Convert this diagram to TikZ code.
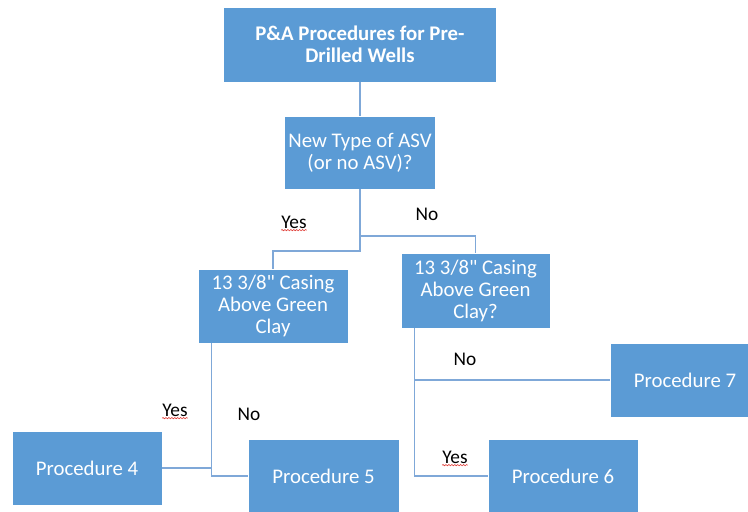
\documentclass[tikz,border=0pt]{standalone}
\usepackage{fontspec}
\setmainfont{Carlito}[Ligatures=TeXOff]
\usetikzlibrary{decorations.pathmorphing}
\definecolor{boxblue}{HTML}{5B9BD5}
\definecolor{linkblue}{HTML}{7FA8D8}
\definecolor{squig}{HTML}{E0403A}
\begin{document}
\begin{tikzpicture}[x=0.75pt,y=-0.75pt,
  box/.style={fill=boxblue,draw=white,line width=0.6pt,inner sep=0pt,
    text=white,align=center,font=\fontsize{15.6}{16.5}\selectfont},
  link/.style={draw=linkblue,line width=1.3pt},
  lbl/.style={text=black,inner sep=0pt,font=\fontsize{14.5}{16}\selectfont},
  spell/.style={draw=squig,line width=0.45pt,decorate,
    decoration={snake,amplitude=0.5pt,segment length=2.2pt}}]
\useasboundingbox (0,0) rectangle (748,511);
\clip (0,0) rectangle (748,511);

% decision and procedure boxes
\node[box,minimum width=204.75pt,minimum height=56.25pt,font=\bfseries\fontsize{15.6}{16.5}\selectfont]
  (top) at (360,44.5) {P\&A Procedures for Pre-\\Drilled Wells};
\node[box,minimum width=113.25pt,minimum height=54.75pt] (asv) at (360,152.5)
  {New Type of ASV\\(or no ASV)?};
\node[box,minimum width=112.5pt,minimum height=55.5pt] (lbox) at (273,306)
  {13 3/8" Casing\\Above Green\\Clay};
\node[box,minimum width=111.75pt,minimum height=56.25pt] (rbox) at (475.5,290.5)
  {13 3/8" Casing\\Above Green\\Clay?};
\node[box,minimum width=112.5pt,minimum height=55.5pt] (p4) at (87,468) {Procedure 4};
\node[box,minimum width=113.25pt,minimum height=55.5pt] (p5) at (323.5,476) {Procedure 5};
\node[box,minimum width=112.5pt,minimum height=55.5pt] (p6) at (563,476) {Procedure 6};
\node[box,minimum width=112.5pt,minimum height=55.5pt] (p7) at (685,380) {Procedure 7};

% branch points
\coordinate (jl) at (273,251);
\coordinate (jr) at (475.5,236);
\coordinate (ls) at ([xshift=10.5pt]lbox.south west);
\coordinate (rs) at ([xshift=10.5pt]rbox.south west);

% connectors
\draw[link] (top.south) -- (asv.north);
\draw[link] (asv.south) |- (jl) -- (lbox.north);
\draw[link] (asv.south) |- (jr) -- (rbox.north);
\draw[link] (ls) |- (p5.west);
\draw[link] (p4.east) -- (p4.east -| ls);
\draw[link] (rs) |- (p6.west);
\draw[link] (p7.west) -- (p7.west -| rs);

% branch labels
\node[lbl] (y1) at (294,222) {Yes};
\node[lbl] (n1) at (427,214) {No};
\node[lbl] (y2) at (175,410) {Yes};
\node[lbl] (n2) at (249,414) {No};
\node[lbl] (n3) at (465,359) {No};
\node[lbl] (y3) at (455,457) {Yes};

% spelling marks under the Yes labels
\foreach \y in {y1,y2,y3}
  \draw[spell] ([yshift=-1.2pt]\y.south west) -- ([yshift=-1.2pt]\y.south east);
\end{tikzpicture}
\end{document}
